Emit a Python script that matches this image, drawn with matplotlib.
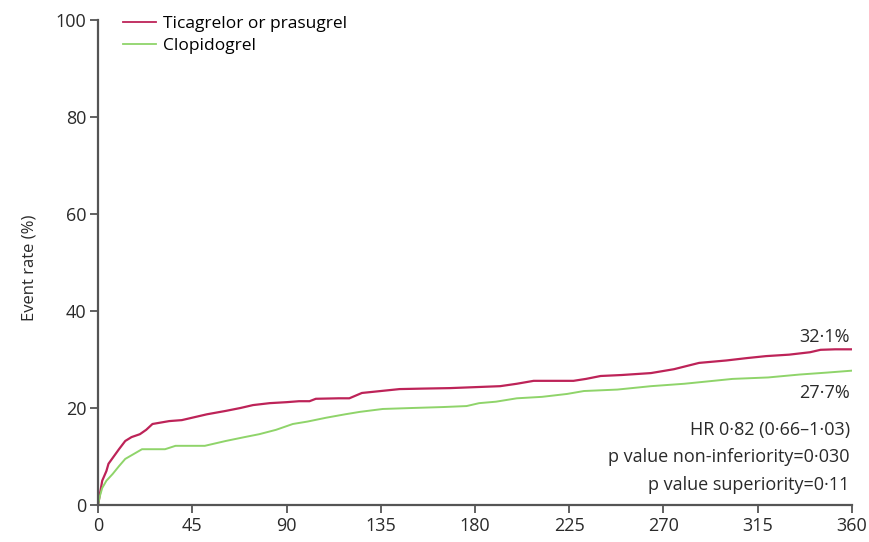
import matplotlib.pyplot as plt

# Kaplan-Meier style event curves
days_tica = [0, 1, 2, 4, 5, 7, 10, 13, 16, 20, 23, 26, 30, 34, 40, 45, 52, 61, 68, 74,
             82, 90, 96, 101, 104, 115, 120, 126, 135, 144, 155, 168, 180, 192, 200, 208,
             218, 227, 233, 240, 250, 264, 275, 287, 300, 310, 319, 330, 340, 345, 352, 360]
rate_tica = [0, 2.5, 5, 7, 8.5, 9.7, 11.5, 13.2, 14, 14.6, 15.5, 16.7, 17, 17.3, 17.5, 18,
             18.7, 19.4, 20, 20.6, 21, 21.2, 21.4, 21.4, 21.9, 22, 22, 23.1, 23.5, 23.9, 24,
             24.1, 24.3, 24.5, 25, 25.6, 25.6, 25.6, 26, 26.6, 26.8, 27.2, 28, 29.3, 29.8,
             30.3, 30.7, 31, 31.5, 32, 32.1, 32.1]

days_clop = [0, 1, 2, 4, 7, 10, 13, 17, 21, 26, 32, 37, 45, 51, 61, 70, 77, 85, 93, 100,
             109, 118, 125, 136, 150, 165, 176, 182, 190, 200, 212, 224, 232, 248, 264, 280,
             303, 320, 335, 348, 360]
rate_clop = [0, 2, 3.5, 5, 6.4, 8, 9.5, 10.5, 11.5, 11.5, 11.5, 12.2, 12.2, 12.2, 13.2, 14,
             14.6, 15.5, 16.7, 17.2, 18, 18.7, 19.2, 19.8, 20, 20.2, 20.4, 21, 21.3, 22, 22.3,
             22.9, 23.5, 23.8, 24.5, 25, 26, 26.3, 26.9, 27.3, 27.7]

xticks = [0, 45, 90, 135, 180, 225, 270, 315, 360]
yticks = [0, 20, 40, 60, 80, 100]

stats_lines = ["HR 0\u00b782 (0\u00b766\u20131\u00b703)",
               "p value non-inferiority=0\u00b7030",
               "p value superiority=0\u00b711"]

plt.rcParams['font.family'] = ['Open Sans', 'DejaVu Sans']

fig = plt.figure(figsize=(8.69, 5.42), dpi=100)
ax = fig.add_axes([0.1128, 0.0683, 0.8676, 0.8947])

red = '#bd2358'
green = '#8fd46a'
ax.plot(days_tica, rate_tica, color=red, lw=1.6, label='Ticagrelor or prasugrel')
ax.plot(days_clop, rate_clop, color=green, lw=1.4, label='Clopidogrel')

ax.set_xlim(0, 360)
ax.set_ylim(0, 100)
ax.set_xticks(xticks)
ax.set_yticks(yticks)
ax.tick_params(direction='out', length=5.5, width=1.3, colors='#555555',
               labelsize=13, labelcolor='#2a2a2a', pad=3)
for side in ['top', 'right']:
    ax.spines[side].set_visible(False)
for side in ['left', 'bottom']:
    ax.spines[side].set_color('#555555')
    ax.spines[side].set_linewidth(1.6)

ax.set_ylabel('Event rate (%)', fontsize=12, color='#2a2a2a')
ax.yaxis.set_label_coords(-0.08, 0.49)

leg = ax.legend(loc='upper left', bbox_to_anchor=(0.012, 1.04), frameon=False,
                fontsize=12.5, handlelength=1.9, handletextpad=0.45, labelspacing=0.3)
for line in leg.get_lines():
    line.set_linewidth(1.3)

ax.text(359, 34.6, "32\u00b71%", ha='right', va='center', fontsize=13, color='#2a2a2a')
ax.text(359, 23.1, "27\u00b77%", ha='right', va='center', fontsize=13, color='#2a2a2a')
for i, s in enumerate(stats_lines):
    ax.text(359, 15.5 - i * 5.7, s, ha='right', va='center', fontsize=13, color='#2a2a2a')

fig.savefig('out.png', dpi=100)
